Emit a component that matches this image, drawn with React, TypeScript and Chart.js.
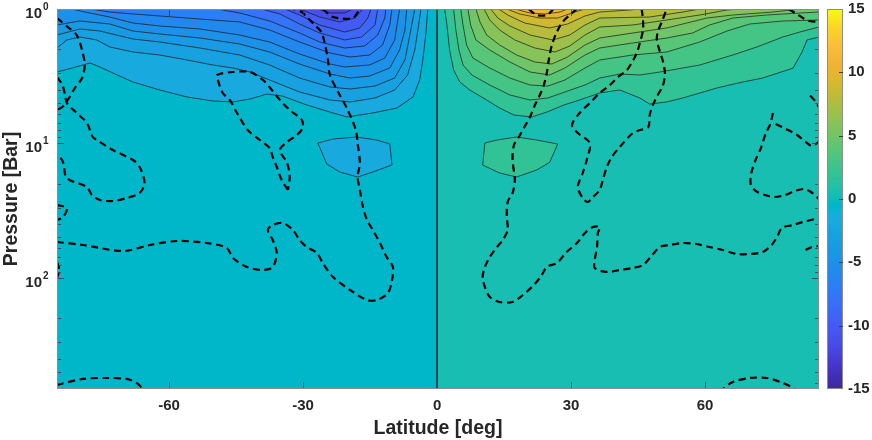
import React, { useEffect, useRef } from 'react';
import { Chart, registerables } from 'chart.js';

Chart.register(...registerables);

type Pt = [number, number]; // [latitude deg, pressure bar]

// ---------- axes ----------
const latRange = [-85.1, 85.5];
const pressureRange = [1, 669];
const latTicks = [-60, -30, 0, 30, 60];
const pressureTicks = [1, 10, 100];
const pressureTickExponents = ['0', '1', '2'];
const colorbarTicks = [-15, -10, -5, 0, 5, 10, 15];
const colorLimits = [-15, 15];

// ---------- filled contours, northern hemisphere (positive levels) ----------
const northLevels = [1, 2, 3, 4, 5, 6, 7, 8, 9, 10];
const north1: Pt[] = [[1.7, 1], [2.2, 1.315], [2.8, 2.018], [3.7, 2.841], [5.1, 3.49], [7.3, 4.0], [11.1, 4.75], [14.0, 5.45], [17.2, 6.14], [21.2, 6.35], [24.6, 5.83], [28.4, 5.17], [31.9, 4.75], [36.4, 4.21], [40.9, 4.0], [45.4, 4.59], [47.6, 5.09], [51.4, 4.91], [55.0, 4.59], [62.6, 3.87], [68.4, 3.49], [72.9, 3.26], [79.7, 2.75], [81.7, 2.09], [82.8, 1.7], [85.5, 1.615]];
const north2: Pt[] = [[3.7, 1], [4.2, 1.433], [4.9, 2.018], [5.8, 2.608], [7.8, 3.095], [11.8, 3.674], [16.3, 4.359], [20.8, 4.749], [24.8, 4.588], [28.6, 4.141], [33.1, 3.674], [36.4, 3.26], [40.9, 3.043], [45.4, 3.095], [49.9, 2.94], [55.0, 2.746], [58.8, 2.608], [66.2, 2.198], [71.6, 1.916], [77.4, 1.615], [81.2, 1.483], [85.5, 1.361]];
const north3: Pt[] = [[5.3, 1], [5.8, 1.315], [6.6, 1.852], [8.0, 2.314], [11.8, 2.746], [16.3, 3.26], [20.8, 3.674], [24.8, 3.738], [28.6, 3.373], [33.1, 2.746], [36.4, 2.394], [43.8, 2.198], [51.4, 2.088], [58.8, 1.759], [64.9, 1.458], [70.0, 1.293], [77.4, 1.228], [85.5, 1.207]];
const north4: Pt[] = [[6.9, 1], [7.5, 1.315], [8.7, 1.7], [11.8, 2.018], [16.3, 2.478], [20.8, 2.94], [25.2, 3.095], [28.6, 2.746], [33.1, 2.198], [36.4, 1.95], [43.8, 1.789], [51.4, 1.643], [57.2, 1.508], [61.0, 1.315], [66.2, 1.167], [73.8, 1.108], [81.2, 1.071], [85.5, 1.053]];
const north5: Pt[] = [[8.7, 1], [9.6, 1.249], [11.1, 1.561], [14.0, 1.852], [17.8, 2.198], [21.9, 2.478], [25.7, 2.564], [29.2, 2.275], [33.1, 1.852], [36.4, 1.643], [43.8, 1.508], [51.4, 1.384], [55.9, 1.271], [60.4, 1.167], [66.2, 1.108], [75.2, 1.053], [81.2, 1]];
const north6: Pt[] = [[10.5, 1], [11.8, 1.207], [14.0, 1.433], [17.4, 1.7], [21.9, 1.95], [26.4, 2.088], [29.7, 1.884], [33.1, 1.561], [36.4, 1.361], [43.8, 1.315], [51.4, 1.207], [58.8, 1.108], [64.9, 1.017], [67.8, 1]];
const north7: Pt[] = [[12.0, 1], [13.6, 1.167], [16.3, 1.338], [20.8, 1.561], [25.9, 1.7], [29.7, 1.561], [33.1, 1.315], [36.4, 1.167], [47.6, 1.147], [55.0, 1.053], [58.8, 1]];
const north8: Pt[] = [[13.8, 1], [15.8, 1.108], [19.6, 1.271], [25.2, 1.384], [29.2, 1.293], [33.1, 1.127], [36.4, 1.053], [43.1, 1.017], [45.4, 1]];
const north9: Pt[] = [[15.6, 1], [18.5, 1.089], [23.0, 1.167], [27.0, 1.167], [30.8, 1.053], [33.1, 1]];
const north10: Pt[] = [[17.4, 1], [20.8, 1.071], [24.1, 1.089], [27.5, 1.053], [29.2, 1]];
const northLensLevel = 1;
const northLens: Pt[] = [[10.7, 9.92], [13.4, 9.42], [17.8, 8.95], [22.3, 9.42], [27.0, 10.09], [25.2, 13.8], [22.3, 15.74], [17.8, 17.75], [14.0, 16.57], [10.2, 14.45]];

// ---------- filled contours, southern hemisphere (negative levels) ----------
const southLevels = [-1, -2, -3, -4, -5, -6, -7, -8, -9, -10, -11];
const south1: Pt[] = [[-85.1, 2.94], [-80.9, 2.7], [-77.7, 2.52], [-75.5, 2.7], [-72.6, 2.99], [-68.1, 3.49], [-62.1, 4.0], [-56.0, 4.51], [-50.2, 4.83], [-45.7, 4.91], [-41.9, 4.67], [-38.1, 4.29], [-34.6, 4.44], [-29.2, 5.17], [-23.3, 5.93], [-20.2, 6.35], [-14.4, 5.93], [-9.0, 5.45], [-5.4, 4.51], [-3.9, 3.37], [-3.2, 2.39], [-2.5, 1.51], [-2.1, 1]];
const south2: Pt[] = [[-85.1, 1.95], [-82.9, 1.7], [-80.0, 1.615], [-76.2, 1.7], [-73.3, 1.916], [-68.1, 2.088], [-62.1, 2.198], [-56.0, 2.394], [-50.2, 2.608], [-45.7, 2.746], [-41.9, 2.94], [-37.5, 3.373], [-30.8, 4.141], [-24.0, 4.749], [-19.5, 4.914], [-13.9, 4.588], [-9.5, 4.002], [-6.6, 3.095], [-5.0, 2.018], [-4.3, 1.433], [-3.6, 1]];
const south3: Pt[] = [[-85.1, 1.561], [-80.0, 1.408], [-75.5, 1.458], [-68.1, 1.671], [-62.1, 1.759], [-53.1, 1.95], [-44.2, 2.198], [-37.5, 2.608], [-30.8, 3.26], [-24.0, 3.802], [-19.5, 3.934], [-13.9, 3.738], [-9.5, 3.26], [-7.2, 2.394], [-6.1, 1.561], [-5.0, 1]];
const south4: Pt[] = [[-85.1, 1.315], [-80.0, 1.228], [-73.3, 1.293], [-68.1, 1.458], [-62.1, 1.534], [-53.1, 1.643], [-44.2, 1.821], [-37.5, 2.088], [-30.8, 2.564], [-24.0, 3.043], [-19.5, 3.26], [-15.1, 3.149], [-10.6, 2.746], [-8.4, 2.018], [-7.2, 1.433], [-6.8, 1]];
const south5: Pt[] = [[-81.8, 1], [-78.9, 1.053], [-73.3, 1.147], [-68.1, 1.271], [-62.1, 1.338], [-53.1, 1.408], [-44.2, 1.561], [-37.5, 1.759], [-30.8, 2.161], [-24.0, 2.564], [-20.7, 2.7], [-15.1, 2.608], [-11.7, 2.314], [-9.5, 1.7], [-8.8, 1.207], [-8.4, 1]];
const south6: Pt[] = [[-77.7, 1], [-73.3, 1.053], [-68.1, 1.089], [-62.1, 1.127], [-53.1, 1.187], [-44.2, 1.249], [-37.5, 1.433], [-30.8, 1.759], [-24.0, 2.125], [-19.5, 2.275], [-15.1, 2.198], [-12.2, 1.852], [-10.6, 1.315], [-10.1, 1]];
const south7: Pt[] = [[-49.3, 1], [-44.2, 1.071], [-37.5, 1.228], [-30.8, 1.508], [-26.3, 1.759], [-20.7, 1.95], [-16.2, 1.884], [-13.3, 1.561], [-11.7, 1.167], [-11.5, 1]];
const south8: Pt[] = [[-39.3, 1], [-35.2, 1.089], [-30.8, 1.293], [-26.3, 1.508], [-20.7, 1.7], [-16.9, 1.615], [-13.9, 1.315], [-13.3, 1]];
const south9: Pt[] = [[-34.1, 1], [-30.8, 1.108], [-26.3, 1.315], [-20.7, 1.483], [-17.3, 1.384], [-15.5, 1.167], [-14.8, 1]];
const south10: Pt[] = [[-30.8, 1], [-26.3, 1.147], [-21.8, 1.249], [-18.4, 1.167], [-16.6, 1]];
const south11: Pt[] = [[-26.7, 1], [-24.0, 1.071], [-20.7, 1.071], [-18.9, 1]];
const southLensLevel = -1;
const southLens: Pt[] = [[-26.7, 9.92], [-23.3, 9.26], [-18.0, 8.95], [-13.5, 9.42], [-10.6, 10.09], [-10.1, 14.45], [-14.4, 16.29], [-17.8, 17.75], [-21.8, 16.29], [-24.7, 14.2]];

const equatorZero: Pt[] = [[0, 1], [0, 669]];

// ---------- dashed curves ----------
const dashSouthEdgeA: Pt[] = [[-85.1, 1.167], [-82.7, 1.361], [-80.7, 1.561], [-79.5, 2.018], [-78.9, 2.608], [-79.5, 3.26], [-81.1, 3.867], [-82.7, 4.749], [-83.9, 5.354], [-85.1, 5.634]];
const dashSouthEdgeB: Pt[] = [[-85.1, 3.203], [-83.9, 3.674], [-83.3, 4.359], [-82.9, 4.999], [-80.7, 5.932], [-78.4, 7.04], [-77.1, 8.95], [-76.2, 9.42], [-72.6, 11.18], [-68.1, 13.27], [-66.6, 14.95], [-65.5, 19.67], [-66.6, 23.33], [-69.5, 25.42], [-72.6, 26.76], [-75.5, 26.31], [-77.3, 24.15], [-78.4, 21.06], [-82.9, 18.05], [-83.7, 13.96], [-84.4, 12.6], [-85.1, 12.18]];
const dashSouthEdgeC: Pt[] = [[-85.1, 28.66], [-82.9, 30.17], [-83.7, 35.2], [-85.1, 37.06]];
const dashSouthEdgeD: Pt[] = [[-85.1, 76.0], [-84.6, 87.2], [-85.1, 100]];
const dashSouthLong: Pt[] = [[-85.1, 54.0], [-79.3, 56.86], [-70.3, 63.01], [-64.3, 56.86], [-58.3, 53.1], [-51.6, 54.94], [-47.1, 59.84], [-45.7, 71.0], [-42.6, 82.8], [-39.0, 87.2], [-36.8, 82.8], [-35.9, 65.2], [-36.8, 52.19], [-37.9, 43.97], [-36.8, 40.36], [-34.6, 39.0], [-32.3, 43.97], [-30.8, 52.19], [-29.2, 58.84], [-26.9, 65.2], [-25.6, 77.4], [-23.3, 98.3], [-19.5, 122.8], [-15.7, 145.8], [-13.5, 145.8], [-11.0, 129.3], [-10.1, 103.5], [-9.9, 82.8], [-11.3, 69.8], [-12.8, 54.94], [-14.4, 43.97], [-15.7, 37.06], [-16.6, 29.66], [-17.3, 22.16], [-17.8, 17.75], [-17.3, 13.96], [-17.8, 9.92], [-18.2, 7.94], [-20.0, 5.634], [-21.8, 4.359], [-24.0, 3.095], [-24.5, 2.314], [-25.8, 1.508], [-27.4, 1.315], [-29.2, 1.147], [-30.3, 1.053], [-32.3, 1]];
const dashSouthTopLoop: Pt[] = [[-25.6, 1], [-23.3, 1.147], [-18.9, 1.167], [-17.3, 1]];
const dashSouthLoop: Pt[] = [[-33.4, 22.16], [-34.8, 18.68], [-35.9, 14.95], [-36.8, 12.6], [-37.5, 10.8], [-39.7, 9.42], [-42.4, 7.94], [-44.8, 5.93], [-46.4, 4.75], [-48.0, 4.21], [-49.1, 3.37], [-49.3, 3.095], [-45.7, 2.94], [-41.9, 2.94], [-39.0, 3.37], [-37.0, 4.0], [-35.2, 4.75], [-33.0, 5.634], [-30.3, 6.688], [-30.1, 7.67], [-31.4, 8.65], [-33.6, 9.74], [-35.2, 11.18], [-33.6, 13.96], [-33.0, 17.75], [-33.4, 22.16]];
const dashNorthLong: Pt[] = [[31.3, 1], [29.7, 1.108], [28.1, 1.249], [26.8, 1.483], [25.7, 1.852], [25.0, 2.394], [24.6, 2.94], [23.9, 3.674], [23.0, 4.359], [21.9, 5.173], [20.8, 6.353], [19.4, 7.67], [18.3, 8.95], [17.2, 10.26], [16.9, 13.27], [17.4, 18.68], [16.9, 23.33], [15.8, 27.23], [15.6, 35.2], [15.8, 43.97], [14.7, 52.19], [13.4, 58.84], [11.8, 69.83], [10.7, 82.8], [10.2, 98.3], [10.7, 116.7], [11.8, 138.5], [14.0, 150.8], [16.9, 150.8], [19.2, 133.8], [21.2, 116.7], [23.0, 100], [24.6, 82.8], [26.8, 77.4], [29.0, 64.09], [31.3, 54.94], [33.1, 46.29], [34.9, 41.76], [36.4, 41.76], [36.0, 46.29], [35.8, 58.84], [35.3, 73.5], [35.3, 84.3], [38.0, 90.2], [40.9, 87.2], [43.8, 84.3], [46.1, 80.1], [47.6, 71.0], [49.9, 58.84], [52.1, 56.86], [55.0, 54.94], [58.1, 55.89], [61.0, 58.84], [64.0, 61.92], [67.1, 66.32], [70.0, 66.32], [72.9, 64.09], [74.9, 56.86], [76.1, 49.58], [77.2, 42.49], [79.7, 40.36], [81.9, 38.34], [85.5, 35.81]];
const dashNorthTopLoop: Pt[] = [[20.5, 1], [22.3, 1.108], [24.5, 1.11], [26.1, 1]];
const dashNorthU: Pt[] = [[45.8, 1], [46.1, 1.207], [46.1, 1.433], [45.4, 1.789], [44.7, 2.125], [43.8, 2.436], [42.5, 2.841], [40.5, 3.203], [38.7, 3.674], [36.4, 4.213], [34.2, 4.999], [31.9, 5.932], [30.2, 7.29], [31.5, 8.36], [34.2, 9.92], [33.5, 13.27], [32.6, 16.57], [31.5, 21.06], [32.6, 25.42], [33.7, 27.23], [34.9, 24.99], [36.4, 22.16], [37.1, 18.68], [38.0, 14.95], [39.1, 12.6], [40.9, 10.62], [43.8, 8.36], [45.4, 7.94], [47.3, 7.54], [47.6, 6.139], [48.3, 5.173], [49.4, 4.359], [50.6, 3.674], [51.0, 2.991], [50.6, 2.478], [49.9, 2.088], [49.2, 1.7], [49.4, 1.483], [50.3, 1.249], [51.4, 1]];
const dashNorthEdgeA: Pt[] = [[75.2, 5.932], [74.5, 7.29], [73.6, 8.36], [72.5, 10.8], [71.3, 13.27], [70.4, 16.29], [70.2, 20.0], [71.3, 22.55], [73.4, 24.15], [75.6, 24.99], [77.9, 24.15], [80.1, 22.55], [82.1, 21.79], [83.7, 22.94], [85.5, 25.86]];
const dashNorthEdgeB: Pt[] = [[75.8, 7.16], [78.1, 7.8], [80.6, 8.65], [82.5, 9.74], [83.9, 10.44], [85.5, 9.74]];
const dashNorthEdgeC: Pt[] = [[83.5, 4.4], [84.8, 4.9], [85.5, 5.4]];
const dashNorthEdgeD: Pt[] = [[78.7, 1], [80.5, 1.089], [81.9, 1.167], [83.4, 1.228], [85.5, 1.249]];
const dashNorthEdgeE: Pt[] = [[82.5, 61.92], [83.9, 58.84], [85.5, 57.84]];
const dashSouthBottom: Pt[] = [[-85.1, 624], [-79.3, 563], [-73.9, 554], [-69.5, 563], [-67.3, 603], [-65.9, 669], [-65.5, 720]];
const dashNorthBottom: Pt[] = [[63.6, 720], [64.0, 669], [66.2, 593], [70.0, 554], [73.8, 554], [77.4, 603], [80.1, 669], [80.5, 720]];

const northContours = [north1, north2, north3, north4, north5, north6, north7, north8, north9, north10];
const southContours = [south1, south2, south3, south4, south5, south6, south7, south8, south9, south10, south11];
const dashedCurves = [dashSouthEdgeA, dashSouthEdgeB, dashSouthEdgeC, dashSouthEdgeD, dashSouthLong, dashSouthTopLoop, dashSouthLoop, dashNorthLong, dashNorthTopLoop, dashNorthU, dashNorthEdgeA, dashNorthEdgeB, dashNorthEdgeC, dashNorthEdgeD, dashNorthEdgeE, dashSouthBottom, dashNorthBottom];

// ---------- style ----------
const FONT = '"Liberation Sans", Arial, Helvetica, sans-serif';
const INK = '#262626';
const CMAP: number[][] = [
  [-15, 62, 38, 155], [-13, 70, 55, 205], [-11.5, 72, 75, 232], [-10, 68, 90, 242],
  [-8.5, 58, 108, 248], [-7, 45, 125, 245], [-5.5, 32, 140, 235], [-4, 25, 153, 228],
  [-2.5, 22, 164, 222], [-1.5, 25, 172, 222], [-0.5, 0, 183, 202], [0.5, 24, 190, 178],
  [1.5, 42, 194, 155], [2.5, 60, 196, 140], [4, 90, 198, 118], [5.5, 125, 196, 95],
  [7, 160, 192, 72], [8.5, 198, 186, 52], [9.5, 220, 184, 45], [10.5, 240, 178, 52],
  [12, 252, 188, 58], [13.5, 250, 212, 40], [15, 248, 250, 20],
];

function cmap(v: number): string {
  const s = CMAP;
  if (v <= s[0][0]) return `rgb(${s[0][1]},${s[0][2]},${s[0][3]})`;
  for (let i = 1; i < s.length; i++) {
    if (v <= s[i][0]) {
      const t = (v - s[i - 1][0]) / (s[i][0] - s[i - 1][0]);
      const c = [1, 2, 3].map((k) => Math.round(s[i - 1][k] + t * (s[i][k] - s[i - 1][k])));
      return `rgb(${c[0]},${c[1]},${c[2]})`;
    }
  }
  const l = s[s.length - 1];
  return `rgb(${l[1]},${l[2]},${l[3]})`;
}
// colour of the band just beyond a contour level (away from zero)
const bandColor = (level: number) => cmap(level > 0 ? level + 0.9 : level - 0.9);

const fieldPlugin = {
  id: 'field',
  beforeDatasetsDraw(chart: any) {
    const { ctx, chartArea: a } = chart;
    const xs = chart.scales.x;
    const ys = chart.scales.y;
    const top = ys.getPixelForValue(pressureRange[0]);
    const bottom = ys.getPixelForValue(pressureRange[1]);
    const xl = xs.getPixelForValue(latRange[0]);
    const xr = xs.getPixelForValue(latRange[1]);
    const x0 = xs.getPixelForValue(0);
    ctx.save();
    ctx.beginPath();
    ctx.rect(a.left, a.top, a.right - a.left, a.bottom - a.top);
    ctx.clip();
    ctx.fillStyle = cmap(-0.5);
    ctx.fillRect(xl, top, x0 - xl, bottom - top);
    ctx.fillStyle = cmap(0.5);
    ctx.fillRect(x0, top, xr - x0, bottom - top);
    const path = (pts: Pt[]) => {
      pts.forEach((p, i) => {
        const X = xs.getPixelForValue(p[0]);
        const Y = ys.getPixelForValue(p[1]);
        if (i === 0) ctx.moveTo(X, Y); else ctx.lineTo(X, Y);
      });
    };
    const fillCap = (pts: Pt[], color: string) => {
      ctx.beginPath();
      path(pts);
      ctx.lineTo(xs.getPixelForValue(pts[pts.length - 1][0]), top);
      ctx.lineTo(xs.getPixelForValue(pts[0][0]), top);
      ctx.closePath();
      ctx.fillStyle = color;
      ctx.fill();
    };
    const fillClosed = (pts: Pt[], color: string) => {
      ctx.beginPath();
      path(pts);
      ctx.closePath();
      ctx.fillStyle = color;
      ctx.fill();
    };
    northContours.forEach((c, i) => fillCap(c, bandColor(northLevels[i])));
    fillClosed(northLens, bandColor(northLensLevel));
    southContours.forEach((c, i) => fillCap(c, bandColor(southLevels[i])));
    fillClosed(southLens, bandColor(southLensLevel));
    ctx.restore();
  },
};

const framePlugin = {
  id: 'frame',
  afterDatasetsDraw(chart: any) {
    const { ctx, chartArea: a } = chart;
    const xs = chart.scales.x;
    const ys = chart.scales.y;
    ctx.save();
    ctx.strokeStyle = '#3c3c3c';
    ctx.lineWidth = 0.8;
    ctx.beginPath();
    latTicks.forEach((v) => {
      const X = Math.round(xs.getPixelForValue(v)) + 0.5;
      ctx.moveTo(X, a.bottom); ctx.lineTo(X, a.bottom - 7);
      ctx.moveTo(X, a.top); ctx.lineTo(X, a.top + 7);
    });
    pressureTicks.forEach((d) => {
      const Y = Math.round(ys.getPixelForValue(d)) + 0.5;
      ctx.moveTo(a.left, Y); ctx.lineTo(a.left + 7, Y);
      ctx.moveTo(a.right, Y); ctx.lineTo(a.right - 7, Y);
      for (let m = 2; m <= 9; m++) {
        const v = d * m;
        if (v >= pressureRange[1]) break;
        const y = Math.round(ys.getPixelForValue(v)) + 0.5;
        ctx.moveTo(a.left, y); ctx.lineTo(a.left + 4, y);
        ctx.moveTo(a.right, y); ctx.lineTo(a.right - 4, y);
      }
    });
    ctx.stroke();
    ctx.strokeStyle = '#8c8c8c';
    ctx.lineWidth = 1;
    ctx.strokeRect(a.left + 0.5, a.top + 0.5, a.right - a.left - 1, a.bottom - a.top - 1);
    ctx.restore();
  },
  afterDraw(chart: any) {
    const { ctx, chartArea: a } = chart;
    const ys = chart.scales.y;
    const cs = chart.scales.cb;
    ctx.save();
    // y tick labels 10^n
    ctx.fillStyle = INK;
    pressureTicks.forEach((v, i) => {
      const Y = ys.getPixelForValue(v);
      ctx.font = `bold 15px ${FONT}`;
      ctx.textAlign = 'right';
      ctx.textBaseline = 'middle';
      ctx.fillText('10', a.left - 15, Y + 4.5);
      ctx.font = `bold 10px ${FONT}`;
      ctx.textAlign = 'left';
      ctx.fillText(pressureTickExponents[i], a.left - 14, Y - 2);
    });
    // colorbar
    const x0 = cs.left + 8;
    const w = 16;
    for (let y = Math.floor(cs.top); y < Math.ceil(cs.bottom); y++) {
      ctx.fillStyle = cmap(cs.getValueForPixel(y + 0.5));
      ctx.fillRect(x0, y, w, 1);
    }
    ctx.strokeStyle = '#8c8c8c';
    ctx.lineWidth = 1;
    ctx.strokeRect(x0 + 0.5, cs.top + 0.5, w - 1, cs.bottom - cs.top - 1);
    ctx.strokeStyle = '#3c3c3c';
    ctx.beginPath();
    colorbarTicks.forEach((v) => {
      if (v === colorLimits[0] || v === colorLimits[1]) return;
      const Y = Math.round(cs.getPixelForValue(v)) + 0.5;
      ctx.moveTo(x0 + w, Y); ctx.lineTo(x0 + w - 4, Y);
    });
    ctx.stroke();
    ctx.restore();
  },
};

export default function App() {
  const ref = useRef<HTMLCanvasElement>(null);
  useEffect(() => {
    const canvas = ref.current;
    if (!canvas) return;
    const toXY = (pts: Pt[]) => pts.map((p) => ({ x: p[0], y: p[1] }));
    const contourStyle = {
      borderColor: 'rgba(20,20,20,0.85)',
      borderWidth: 0.8,
      pointRadius: 0,
      fill: false,
      tension: 0,
    };
    const datasets: any[] = [];
    dashedCurves.forEach((c) =>
      datasets.push({ data: toXY(c), borderColor: '#000', borderWidth: 2.2, borderDash: [7, 4.5], pointRadius: 0, fill: false, tension: 0.3 })
    );
    [...northContours, ...southContours, equatorZero].forEach((c) => datasets.push({ ...contourStyle, data: toXY(c) }));
    [northLens, southLens].forEach((c) => datasets.push({ ...contourStyle, data: toXY([...c, c[0]]) }));

    const chart = new Chart(canvas, {
      type: 'line',
      data: { datasets },
      options: {
        animation: false,
        responsive: false,
        maintainAspectRatio: false,
        layout: { padding: { top: 9, left: 0, right: 0, bottom: 0 } },
        plugins: { legend: { display: false }, tooltip: { enabled: false } },
        scales: {
          x: {
            type: 'linear',
            position: 'bottom',
            min: latRange[0],
            max: latRange[1],
            afterFit: (s: any) => { s.height = 51; },
            afterBuildTicks: (s: any) => { s.ticks = latTicks.map((v) => ({ value: v })); },
            grid: { display: false, drawTicks: false },
            border: { display: false },
            ticks: {
              autoSkip: false,
              maxRotation: 0,
              padding: 8,
              color: INK,
              font: { family: FONT, size: 15, weight: 'bold' },
              callback: (v: any) => String(v),
            },
            title: {
              display: true,
              text: 'Latitude [deg]',
              color: INK,
              font: { family: FONT, size: 19.5, weight: 'bold' },
              padding: { top: 0, bottom: 0 },
            },
          },
          y: {
            type: 'logarithmic',
            position: 'left',
            reverse: true,
            min: pressureRange[0],
            max: pressureRange[1],
            afterFit: (s: any) => { s.width = 57; },
            grid: { display: false, drawTicks: false },
            border: { display: false },
            ticks: { display: false },
            title: {
              display: true,
              text: 'Pressure [Bar]',
              color: INK,
              font: { family: FONT, size: 19.5, weight: 'bold' },
              padding: { top: 0, bottom: 0 },
            },
          },
          cb: {
            type: 'linear',
            position: 'right',
            min: colorLimits[0],
            max: colorLimits[1],
            afterFit: (s: any) => { s.width = 53; },
            afterBuildTicks: (s: any) => { s.ticks = colorbarTicks.map((v) => ({ value: v })); },
            grid: { display: true, drawOnChartArea: false, drawTicks: true, tickLength: 29, color: 'rgba(0,0,0,0)' },
            border: { display: false },
            ticks: {
              padding: 0,
              color: INK,
              font: { family: FONT, size: 15, weight: 'bold' },
              callback: (v: any) => String(v),
            },
          },
        },
      } as any,
      plugins: [fieldPlugin, framePlugin],
    });
    return () => chart.destroy();
  }, []);
  return (
    <div style={{ position: 'fixed', left: 0, top: 0, width: 872, height: 440, background: '#fff' }}>
      <canvas ref={ref} width={872} height={440} style={{ display: 'block', width: 872, height: 440 }} />
    </div>
  );
}
